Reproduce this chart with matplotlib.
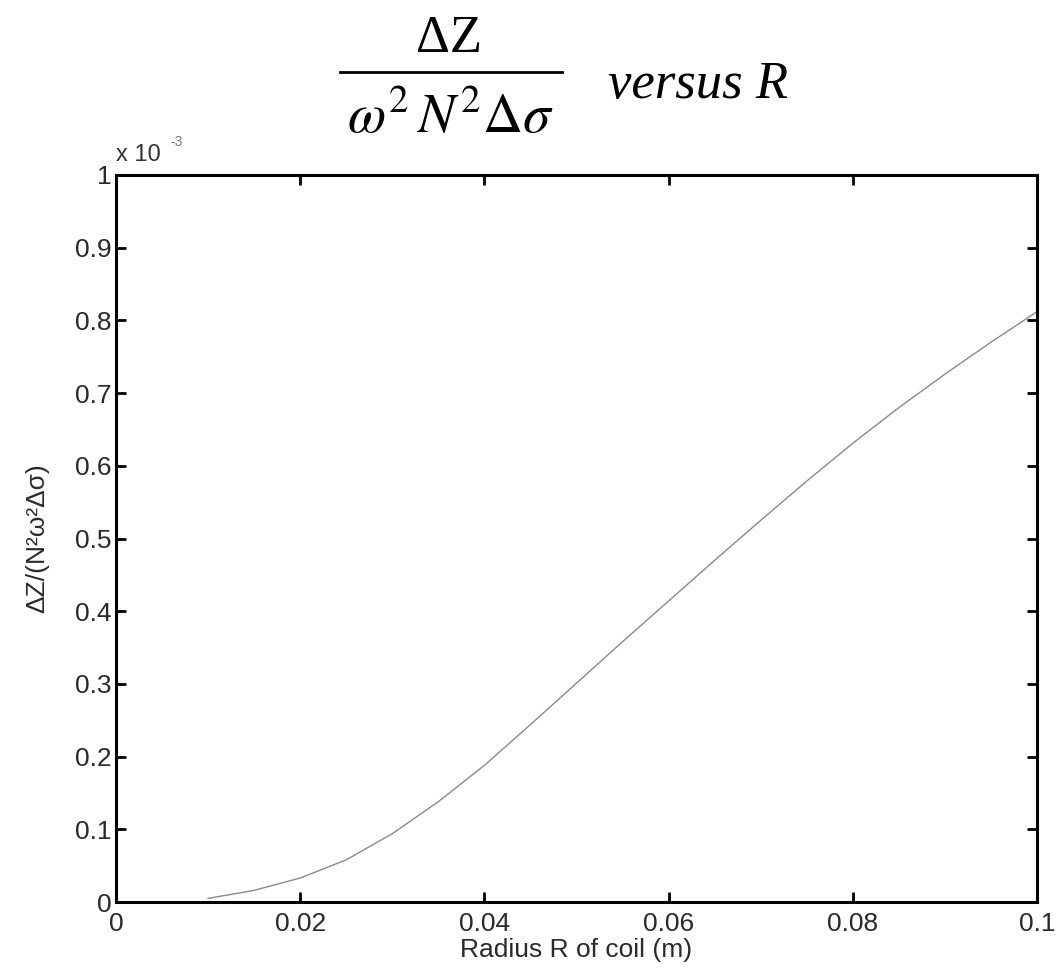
import numpy as np
import matplotlib
matplotlib.use("Agg")
import matplotlib.pyplot as plt
from matplotlib.lines import Line2D

# coil radius (m) and normalised impedance change (x 1e-3)
radius = [0.010, 0.015, 0.020, 0.025, 0.030, 0.035, 0.040, 0.045, 0.050, 0.055,
          0.060, 0.065, 0.070, 0.075, 0.080, 0.085, 0.090, 0.095, 0.100]
dz_norm = [0.005, 0.016, 0.033, 0.058, 0.094, 0.138, 0.188, 0.244, 0.301, 0.358,
           0.414, 0.470, 0.525, 0.579, 0.631, 0.680, 0.726, 0.770, 0.812]

xticks = [0, 0.02, 0.04, 0.06, 0.08, 0.1]
xtick_labels = ["0", "0.02", "0.04", "0.06", "0.08", "0.1"]
yticks = [0, 0.1, 0.2, 0.3, 0.4, 0.5, 0.6, 0.7, 0.8, 0.9, 1.0]
ytick_labels = ["0", "0.1", "0.2", "0.3", "0.4", "0.5", "0.6", "0.7", "0.8", "0.9", "1"]

plt.rcParams['font.family'] = ['Liberation Sans', 'DejaVu Sans']

W, H = 1059, 975
fig = plt.figure(figsize=(W / 100, H / 100), dpi=100)
ax = fig.add_axes([116 / W, 1 - 902 / H, (1037 - 116) / W, (902 - 175) / H])

ax.plot(radius, dz_norm, color='#8a8a8a', lw=1.0)

ax.set_xlim(0, 0.1)
ax.set_ylim(0, 1)
ax.set_xticks(xticks)
ax.set_xticklabels(xtick_labels)
ax.set_yticks(yticks)
ax.set_yticklabels(ytick_labels)
ax.tick_params(direction='in', length=7, width=2, top=True, right=True,
               labelsize=19, labelcolor='#2a2a2a')
ax.tick_params(axis='x', pad=7)
ax.tick_params(axis='y', pad=3)
for sp in ax.spines.values():
    sp.set_linewidth(2.2)

ax.set_xlabel("Radius R of coil (m)", fontsize=19, color='#2a2a2a')
ax.xaxis.set_label_coords(0.5, -0.05)
ax.set_ylabel("ΔZ/(N²ω²Δσ)", fontsize=19, color='#2a2a2a')
ax.yaxis.set_label_coords(-0.072, 0.5)

# exponent for the y axis
ax.text(0.0, 1.012, "x 10", transform=ax.transAxes, fontsize=17,
        color='#333333', ha='left', va='bottom')
ax.text(0.059, 1.036, "-3", transform=ax.transAxes, fontsize=10,
        color='#777777', ha='left', va='bottom')

# title: fraction plus "versus R"
fig.text(449 / W, 1 - 52 / H, "ΔZ", family='Liberation Serif', fontsize=38,
         ha='center', va='baseline')
fig.add_artist(Line2D([340 / W, 562 / W], [1 - 72 / H, 1 - 72 / H],
                      transform=fig.transFigure, color='black', lw=2))
fig.text(450 / W, 1 - 133 / H, r"$\omega^2 \, N^2 \Delta\sigma$", fontsize=40,
         math_fontfamily='stix', ha='center', va='baseline')
fig.text(608 / W, 1 - 98 / H, "versus R", family='Liberation Serif',
         style='italic', fontsize=38, ha='left', va='baseline')

fig.savefig("out.png", dpi=100)
